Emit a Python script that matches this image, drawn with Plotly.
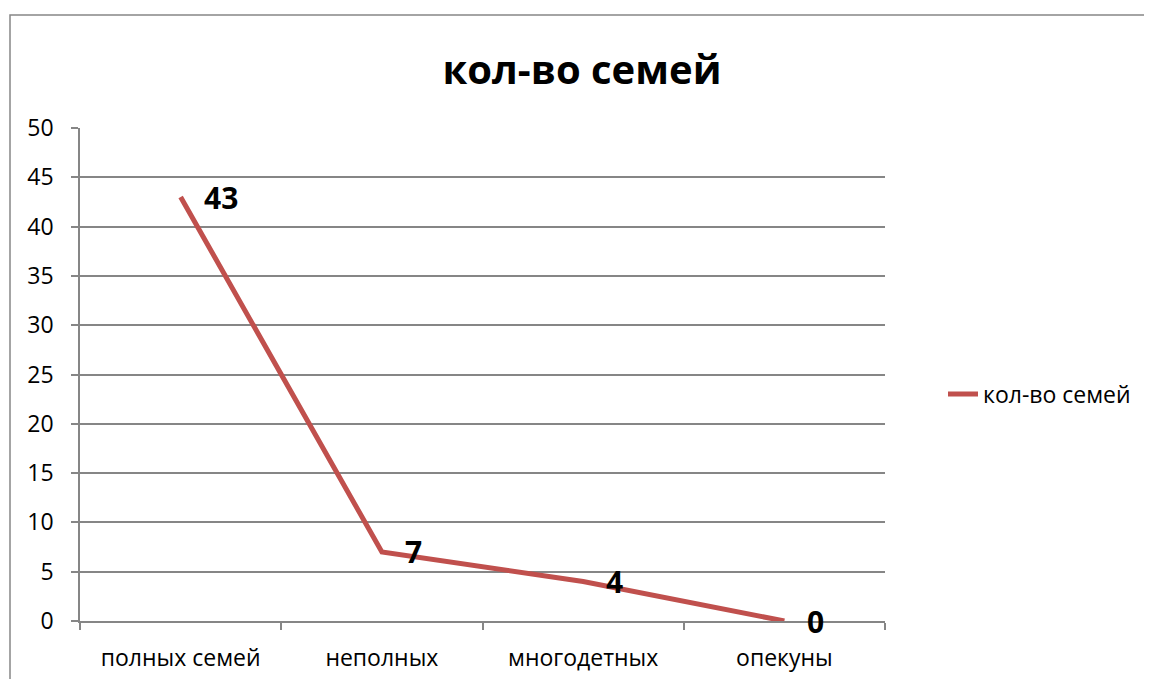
import plotly.graph_objects as go

categories = ["полных семей", "неполных", "многодетных", "опекуны"]
values = [43, 7, 4, 0]
series_name = "кол-во семей"
title_text = "кол-во семей"
y_ticks = list(range(0, 55, 5))

FONT = "Open Sans"
OFF = 8  # page body margin
W, H = 1152 - OFF, 679 - OFF
L, T = 80 - OFF, 128 - OFF
pw, ph = 805, 493
R, B = W - L - pw, H - T - ph

def px_x(p):  # reference pixel -> paper x
    return (p - OFF - L) / pw

def px_y(p):  # reference pixel -> paper y
    return (T + ph - (p - OFF)) / ph

fig = go.Figure()
fig.add_trace(go.Scatter(
    x=categories, y=values, mode="lines", name=series_name,
    line=dict(color="#C0504D", width=5), hoverinfo="x+y",
))

for c, v in zip(categories, values):
    fig.add_annotation(x=c, y=v, text=f"<b>{v}</b>", showarrow=False,
                       xanchor="left", yanchor="middle", xshift=21, yshift=0,
                       font=dict(family=FONT, size=30, color="black"))

# outer chart border
fig.add_shape(type="rect", xref="paper", yref="paper",
              x0=px_x(10), x1=px_x(1250), y0=px_y(760), y1=px_y(15),
              line=dict(color="#878787", width=1.5), fillcolor="rgba(0,0,0,0)",
              layer="below")

fig.update_layout(
    width=W, height=H,
    margin=dict(l=L, r=R, t=T, b=B, autoexpand=False),
    paper_bgcolor="white", plot_bgcolor="white",
    font=dict(family=FONT, size=23, color="black"),
    title=dict(text=f"<b>{title_text}</b>", x=(582 - OFF) / W, xanchor="center",
               xref="container", yref="container", y=1 - (70 - OFF) / H, yanchor="middle",
               font=dict(family=FONT, size=40, color="black")),
    showlegend=True,
    legend=dict(x=px_x(943), xanchor="left", y=px_y(394), yanchor="middle",
                font=dict(family=FONT, size=23, color="black"),
                bgcolor="rgba(0,0,0,0)"),
    xaxis=dict(type="category", range=[-0.5, 3.5], showgrid=False,
               showline=True, linecolor="#868686", linewidth=1.5,
               ticks="outside", tickson="boundaries", ticklen=7, tickcolor="#868686",
               tickwidth=1.5, ticklabelstandoff=16, fixedrange=True, automargin=False),
    yaxis=dict(range=[0, 50], tickvals=y_ticks, showgrid=True, gridcolor="#868686",
               gridwidth=1.5, showline=True, linecolor="#868686", linewidth=1.5,
               ticks="outside", ticklen=7, tickcolor="#868686", tickwidth=1.5,
               ticklabelstandoff=13, zeroline=False, fixedrange=True, automargin=False),
)

fig.write_html("out.html")
